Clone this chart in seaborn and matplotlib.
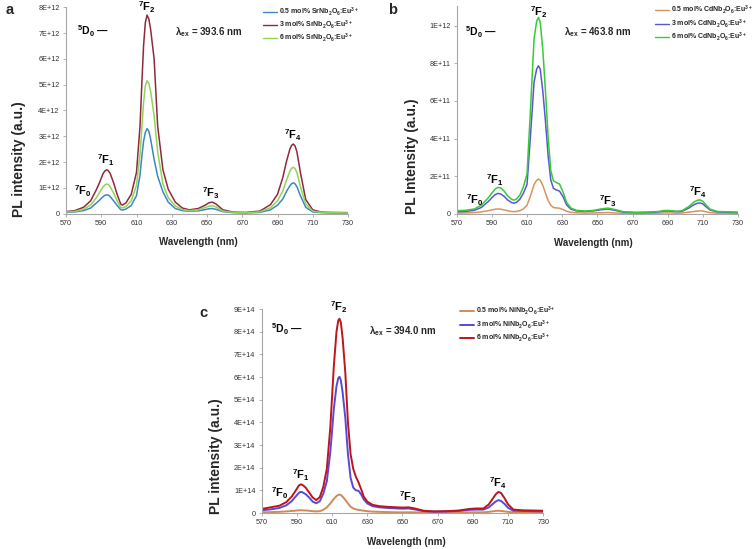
import numpy as np
import pandas as pd
import matplotlib
matplotlib.use("Agg")
import matplotlib.pyplot as plt
from matplotlib.ticker import FixedLocator, FixedFormatter
from matplotlib.lines import Line2D
import seaborn as sns

# ---------------- data ----------------
# Panel a (units of 1E12)
WL_A = [570, 575, 580, 584, 587, 589, 591, 592, 593, 594, 595, 597, 599, 601, 602, 604, 607, 610, 612, 613,
        614, 615, 616, 617, 618, 620, 622, 625, 628, 632, 636, 640, 645, 649, 651, 653, 655, 659, 665, 672,
        680, 686, 690, 693, 695, 697, 698, 699, 700, 701, 703, 706, 710, 715, 720, 730]
A_05 = [0.05, 0.07, 0.12, 0.22, 0.4, 0.52, 0.66, 0.71, 0.73, 0.72, 0.67, 0.5, 0.32, 0.16, 0.14, 0.18, 0.32, 0.7, 1.5, 2.2,
        2.8, 3.15, 3.3, 3.2, 2.9, 2.1, 1.45, 0.85, 0.45, 0.2, 0.12, 0.1, 0.11, 0.16, 0.19, 0.2, 0.17, 0.08, 0.04, 0.03,
        0.05, 0.15, 0.33, 0.57, 0.85, 1.08, 1.16, 1.2, 1.15, 1.05, 0.7, 0.25, 0.07, 0.04, 0.03, 0.03]
A_3 = [0.08, 0.12, 0.25, 0.5, 0.9, 1.2, 1.55, 1.65, 1.7, 1.67, 1.57, 1.2, 0.75, 0.38, 0.33, 0.42, 0.75, 1.6, 3.4, 5.0,
       6.5, 7.4, 7.7, 7.55, 7.15, 6.0, 3.4, 1.7, 0.95, 0.45, 0.22, 0.15, 0.2, 0.33, 0.42, 0.45, 0.38, 0.15, 0.06, 0.05,
       0.1, 0.35, 0.75, 1.4, 2.0, 2.5, 2.65, 2.7, 2.62, 2.4, 1.6, 0.55, 0.15, 0.06, 0.05, 0.04]
A_6 = [0.06, 0.09, 0.17, 0.34, 0.6, 0.82, 1.04, 1.11, 1.15, 1.13, 1.05, 0.8, 0.5, 0.25, 0.22, 0.28, 0.5, 1.1, 2.3, 3.3,
       4.3, 4.95, 5.15, 5.05, 4.75, 3.8, 2.4, 1.15, 0.62, 0.3, 0.16, 0.12, 0.15, 0.24, 0.29, 0.31, 0.26, 0.1, 0.05, 0.04,
       0.07, 0.23, 0.5, 0.88, 1.28, 1.65, 1.76, 1.8, 1.74, 1.6, 1.05, 0.38, 0.1, 0.05, 0.04, 0.03]
A_SCALE = 1e12
A_LABELS = ["0.5 mol% SrNb$_2$O$_6$:Eu$^{3+}$", "3 mol% SrNb$_2$O$_6$:Eu$^{3+}$", "6 mol% SrNb$_2$O$_6$:Eu$^{3+}$"]
A_YTICKS = [0, 1e12, 2e12, 3e12, 4e12, 5e12, 6e12, 7e12, 8e12]
A_YTICKLABELS = ["0", "1E+12", "2E+12", "3E+12", "4E+12", "5E+12", "6E+12", "7E+12", "8E+12"]

# Panel b (units of 1E11)
WL_B = [570, 575, 580, 584, 588, 590, 592, 593.5, 595, 597, 599, 601, 602.5, 604, 606, 608, 610, 612, 614, 615.5,
        616.5, 617.5, 619, 620.5, 622, 623.5, 625, 626.5, 628.5, 630.5, 632.5, 635, 638, 643, 648, 652, 656, 660, 665, 672,
        680, 685, 688, 691, 695, 698, 702, 705, 707, 708.5, 710, 712, 714, 718, 724, 730]
B_05 = [0.03, 0.04, 0.06, 0.1, 0.16, 0.2, 0.24, 0.25, 0.24, 0.2, 0.16, 0.12, 0.11, 0.12, 0.16, 0.26, 0.45, 0.95, 1.55, 1.78,
        1.84, 1.78, 1.5, 1.1, 0.7, 0.45, 0.33, 0.31, 0.29, 0.22, 0.13, 0.07, 0.05, 0.03, 0.04, 0.05, 0.06, 0.04, 0.02, 0.02,
        0.02, 0.03, 0.04, 0.04, 0.03, 0.04, 0.08, 0.12, 0.14, 0.15, 0.14, 0.1, 0.06, 0.03, 0.02, 0.02]
B_3 = [0.1, 0.12, 0.18, 0.33, 0.65, 0.85, 1.02, 1.08, 1.05, 0.92, 0.73, 0.6, 0.56, 0.6, 0.78, 1.1, 1.55, 4.2, 7.0, 7.7,
       7.87, 7.7, 6.5, 4.9, 3.1, 1.8, 1.35, 1.27, 1.2, 0.9, 0.47, 0.24, 0.15, 0.12, 0.15, 0.21, 0.25, 0.18, 0.08, 0.06,
       0.07, 0.1, 0.14, 0.14, 0.11, 0.12, 0.3, 0.48, 0.56, 0.57, 0.52, 0.36, 0.2, 0.1, 0.08, 0.06]
B_6 = [0.16, 0.18, 0.25, 0.45, 0.85, 1.1, 1.32, 1.4, 1.37, 1.2, 0.95, 0.78, 0.72, 0.78, 1.0, 1.45, 2.1, 5.6, 9.3, 10.25,
       10.44, 10.2, 8.7, 6.5, 4.1, 2.3, 1.75, 1.66, 1.58, 1.15, 0.6, 0.3, 0.18, 0.14, 0.18, 0.25, 0.3, 0.22, 0.1, 0.07,
       0.09, 0.12, 0.17, 0.17, 0.13, 0.15, 0.38, 0.62, 0.72, 0.73, 0.66, 0.45, 0.25, 0.12, 0.1, 0.08]
B_SCALE = 1e11
B_LABELS = ["0.5 mol% CdNb$_2$O$_6$:Eu$^{3+}$", "3 mol% CdNb$_2$O$_6$:Eu$^{3+}$", "6 mol% CdNb$_2$O$_6$:Eu$^{3+}$"]
B_YTICKS = [0, 2e11, 4e11, 6e11, 8e11, 1e12]
B_YTICKLABELS = ["0", "2E+11", "4E+11", "6E+11", "8E+11", "1E+12"]

# Panel c (units of 1E14)
WL_C = [570, 575, 580, 584, 587, 589, 591, 592, 593, 595, 597, 599, 601, 603, 605, 607, 609, 611, 612.5, 613.5,
        614.2, 615, 616, 617.5, 619, 620.5, 622, 623.5, 625, 626.5, 628, 630, 633, 637, 642, 647, 650, 653.5, 657, 662,
        668, 675, 682, 688, 692, 696, 699, 701, 703, 704.5, 706, 708, 710, 713, 718, 724, 730]
C_05 = [0.03, 0.04, 0.05, 0.07, 0.09, 0.1, 0.12, 0.12, 0.12, 0.11, 0.1, 0.08, 0.07, 0.08, 0.14, 0.25, 0.42, 0.62, 0.75, 0.8,
        0.81, 0.79, 0.72, 0.58, 0.42, 0.28, 0.2, 0.16, 0.14, 0.12, 0.1, 0.08, 0.06, 0.05, 0.04, 0.03, 0.03, 0.03, 0.03, 0.02,
        0.02, 0.02, 0.02, 0.03, 0.03, 0.03, 0.05, 0.07, 0.09, 0.1, 0.09, 0.07, 0.05, 0.03, 0.02, 0.02, 0.02]
C_3 = [0.12, 0.16, 0.22, 0.34, 0.52, 0.7, 0.88, 0.93, 0.92, 0.83, 0.68, 0.5, 0.43, 0.52, 0.85, 1.4, 2.7, 4.6, 5.6, 5.95,
       6.01, 5.85, 5.3, 4.2, 2.6, 1.55, 1.12, 1.0, 0.98, 0.82, 0.6, 0.42, 0.3, 0.25, 0.22, 0.2, 0.19, 0.2, 0.16, 0.08,
       0.06, 0.07, 0.09, 0.14, 0.15, 0.15, 0.25, 0.38, 0.51, 0.57, 0.53, 0.4, 0.23, 0.1, 0.09, 0.08, 0.07]
C_6 = [0.18, 0.25, 0.32, 0.48, 0.72, 0.95, 1.2, 1.26, 1.25, 1.12, 0.9, 0.68, 0.57, 0.7, 1.15, 1.95, 3.8, 6.5, 8.0, 8.5,
       8.57, 8.4, 7.7, 6.2, 4.0, 2.6, 1.95, 1.6, 1.35, 1.05, 0.72, 0.5, 0.36, 0.3, 0.27, 0.25, 0.24, 0.25, 0.2, 0.1,
       0.07, 0.08, 0.11, 0.18, 0.2, 0.2, 0.38, 0.6, 0.83, 0.93, 0.88, 0.65, 0.38, 0.15, 0.12, 0.11, 0.1]
C_SCALE = 1e14
C_LABELS = ["0.5 mol% NiNb$_2$O$_6$:Eu$^{3+}$", "3 mol% NiNb$_2$O$_6$:Eu$^{3+}$", "6 mol% NiNb$_2$O$_6$:Eu$^{3+}$"]
C_YTICKS = [0, 1e14, 2e14, 3e14, 4e14, 5e14, 6e14, 7e14, 8e14, 9e14]
C_YTICKLABELS = ["0", "1E+14", "2E+14", "3E+14", "4E+14", "5E+14", "6E+14", "7E+14", "8E+14", "9E+14"]

X_TICKS = [570, 590, 610, 630, 650, 670, 690, 710, 730]

# ---------------- style ----------------
sns.set_theme(style="white")
plt.rcParams["font.family"] = ["Liberation Sans", "DejaVu Sans"]
plt.rcParams["mathtext.fontset"] = "custom"
plt.rcParams["mathtext.rm"] = "Liberation Sans:bold"
plt.rcParams["mathtext.it"] = "Liberation Sans:bold"
plt.rcParams["mathtext.bf"] = "Liberation Sans:bold"
plt.rcParams["mathtext.default"] = "regular"

fig = plt.figure(figsize=(7.56, 5.49), dpi=100)
W, H = 756.0, 549.0


def add_axes(left_px, right_px, top_px, bottom_px):
    return fig.add_axes([left_px / W, 1 - bottom_px / H, (right_px - left_px) / W, (bottom_px - top_px) / H])


def draw_panel(ax, wl, series, scale, labels, colors, ylim_top, yticks, yticklabels, ylabel, lw,
               xlab_pos, ylab_pos):
    frames = []
    for lab, vals in zip(labels, series):
        assert len(vals) == len(wl)
        frames.append(pd.DataFrame({"wl": wl, "val": np.asarray(vals) * scale, "s": lab}))
    df = pd.concat(frames, ignore_index=True)
    sns.lineplot(data=df, x="wl", y="val", hue="s", palette=dict(zip(labels, colors)),
                 ax=ax, linewidth=lw, legend=False, sort=False)
    ax.set_xlim(570, 730)
    ax.set_ylim(0, ylim_top)
    ax.xaxis.set_major_locator(FixedLocator(X_TICKS))
    ax.xaxis.set_major_formatter(FixedFormatter([str(t) for t in X_TICKS]))
    ax.yaxis.set_major_locator(FixedLocator(yticks))
    ax.yaxis.set_major_formatter(FixedFormatter(yticklabels))
    for s in ["top", "right"]:
        ax.spines[s].set_visible(False)
    for s in ["left", "bottom"]:
        ax.spines[s].set_color("#a6a6a6")
        ax.spines[s].set_linewidth(0.8)
    ax.tick_params(axis="both", which="major", length=2.5, width=0.6, color="#a6a6a6",
                   labelsize=5.2, labelcolor="#333333", pad=2, direction="out",
                   bottom=True, left=True)
    ax.set_xlabel("Wavelength (nm)", fontsize=7.0, fontweight="bold")
    ax.set_ylabel(ylabel, fontsize=10, fontweight="bold")
    ax.xaxis.set_label_coords(*xlab_pos)
    ax.yaxis.set_label_coords(*ylab_pos)
    ax.xaxis.label.set_va("center")
    ax.yaxis.label.set_va("center")
    ax.set_facecolor("white")
    return df


def annotate(ax, scale, items, fs=8.0):
    for txt, x, y in items:
        ax.text(x, y * scale, txt, ha="center", va="center", fontsize=fs, fontweight="bold",
                color="black", clip_on=False)


def legend(ax, labels, colors, x0, y0, fs=5.0, lw=1.0):
    handles = [Line2D([0], [0], color=c, lw=lw) for c in colors]
    leg = ax.legend(handles, labels, loc="upper left", bbox_to_anchor=(x0, y0), frameon=False,
                    handlelength=2.0, handletextpad=0.25, labelspacing=0.12,
                    borderaxespad=0, borderpad=0, prop={"weight": "bold", "size": fs})
    return leg


# Panel a
A_COLORS = ["#3f86c4", "#8e2a3c", "#8fd45a"]
axa = add_axes(66, 348, 7.3, 213.7)
draw_panel(axa, WL_A, [A_05, A_3, A_6], A_SCALE, A_LABELS, A_COLORS, 8e12, A_YTICKS, A_YTICKLABELS,
           "PL intensity (a.u.)", 1.1, (0.469, -0.136), (-0.165, 0.265))
annotate(axa, A_SCALE, [("$^7$F$_0$", 579.6, 0.89), ("$^7$F$_1$", 592.8, 2.08), ("$^7$F$_2$", 615.9, 8.0),
                        ("$^7$F$_3$", 652.2, 0.81), ("$^7$F$_4$", 699.0, 3.05)])
annotate(axa, A_SCALE, [("$^5$D$_0$ —", 585.3, 7.09)], fs=7.5)
axa.text(650.8, 7.05 * A_SCALE, "λ$_{ex}$ = 393.6 nm", ha="center", va="center", fontsize=7.0, fontweight="bold")
legend(axa, A_LABELS, A_COLORS, 0.70, 1.01)

# Panel b
B_COLORS = ["#d9935e", "#5a56d4", "#35cc35"]
axb = add_axes(456.7, 738, 6, 213.7)
draw_panel(axb, WL_B, [B_05, B_3, B_6], B_SCALE, B_LABELS, B_COLORS, 1.105e12, B_YTICKS, B_YTICKLABELS,
           "PL Intensity (a.u.)", 1.1, (0.485, -0.14), (-0.16, 0.279))
annotate(axb, B_SCALE, [("$^7$F$_0$", 580.2, 0.73), ("$^7$F$_1$", 591.9, 1.79), ("$^7$F$_2$", 616.5, 10.74),
                        ("$^7$F$_3$", 655.8, 0.64), ("$^7$F$_4$", 707.2, 1.17)])
annotate(axb, B_SCALE, [("$^5$D$_0$ —", 584.0, 9.68)], fs=7.5)
axb.text(650.4, 9.68 * B_SCALE, "λ$_{ex}$ = 463.8 nm", ha="center", va="center", fontsize=7.0, fontweight="bold")
legend(axb, B_LABELS, B_COLORS, 0.705, 1.01)

# Panel c
C_COLORS = ["#d08a5a", "#5a48d8", "#c0141c"]
axc = add_axes(261.7, 543.3, 309, 513)
draw_panel(axc, WL_C, [C_05, C_3, C_6], C_SCALE, C_LABELS, C_COLORS, 9e14, C_YTICKS, C_YTICKLABELS,
           "PL intensity (a.u.)", 1.4, (0.515, -0.141), (-0.163, 0.28))
annotate(axc, C_SCALE, [("$^7$F$_0$", 580.4, 0.87), ("$^7$F$_1$", 592.2, 1.68), ("$^7$F$_2$", 614.1, 9.07),
                        ("$^7$F$_3$", 653.0, 0.68), ("$^7$F$_4$", 704.5, 1.31)])
annotate(axc, C_SCALE, [("$^5$D$_0$ —", 584.2, 8.1)], fs=7.5)
axc.text(650.1, 8.03 * C_SCALE, "λ$_{ex}$ = 394.0 nm", ha="center", va="center", fontsize=7.0, fontweight="bold")
legend(axc, C_LABELS, C_COLORS, 0.705, 1.02, lw=1.4)

# panel letters
fig.text(10 / W, 1 - 10 / H, "a", fontsize=10.5, fontweight="bold", ha="center", va="center")
fig.text(393 / W, 1 - 10 / H, "b", fontsize=10.5, fontweight="bold", ha="center", va="center")
fig.text(203 / W, 1 - 313 / H, "c", fontsize=10.5, fontweight="bold", ha="center", va="center")

fig.savefig("out.png", dpi=100, facecolor="white")
